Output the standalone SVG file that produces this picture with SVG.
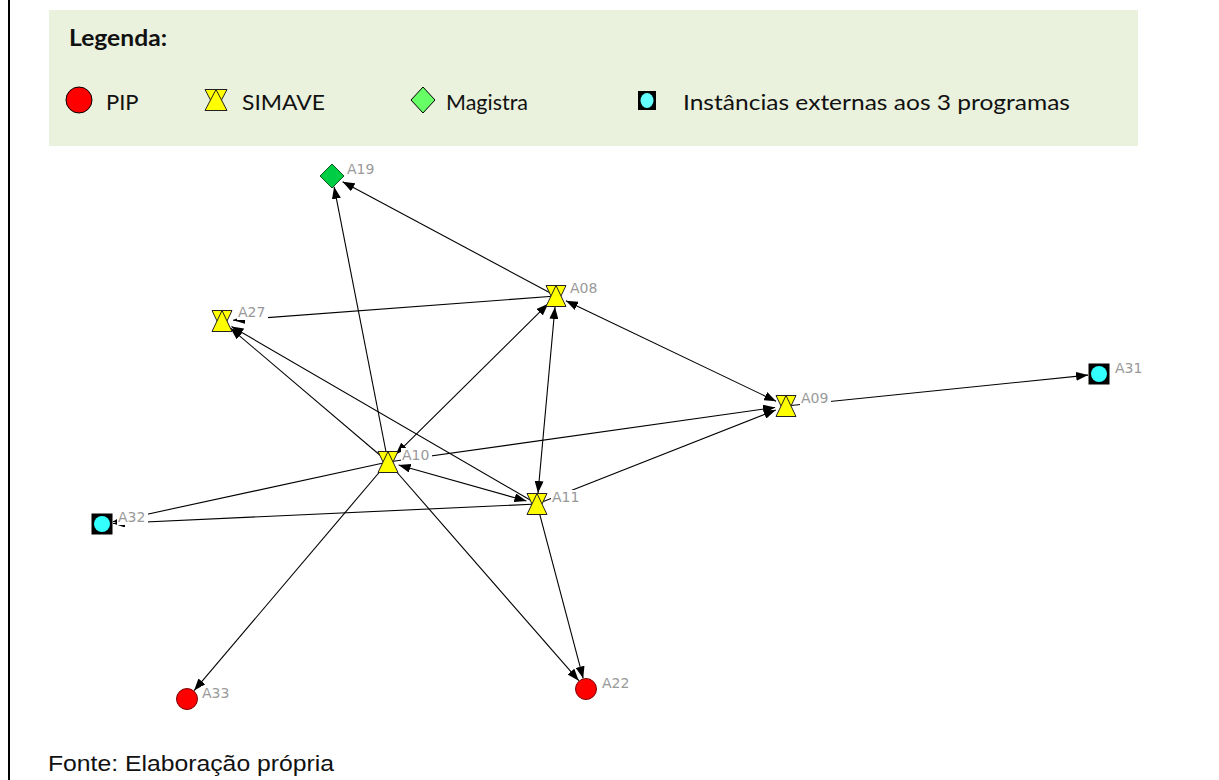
<svg xmlns="http://www.w3.org/2000/svg" width="1219" height="780" viewBox="0 0 1219 780">
  <style>
    .edge { stroke: #000; stroke-width: 1.1; fill: none; }
    .arr { marker-end: url(#arrow); }
    .bi { marker-start: url(#arrow); marker-end: url(#arrow); }
    .lbl { font-family: "DejaVu Sans", Verdana, sans-serif; font-size: 14px; fill: #999; }
    .lblbg { fill: #fff; }
    .leg { font-family: Lato, "Open Sans", sans-serif; font-size: 22px; fill: #111; }
    .hg { fill: #ffff00; stroke: #222; stroke-width: 1; stroke-linejoin: miter; }
  </style>
  <defs>
    <marker id="arrow" viewBox="0 0 12 9" refX="12" refY="4.5" markerWidth="12" markerHeight="9" markerUnits="userSpaceOnUse" orient="auto-start-reverse">
      <path d="M0,0 L12,4.5 L0,9 z" fill="#000"/>
    </marker>
    <!-- hourglass: a down and an up triangle overlapped -->
    <g id="hourglass">
      <polygon class="hg" points="-10,-10.5 10,-10.5 0,10.5"/>
      <polygon class="hg" points="-10,10.5 10,10.5 0,-10.5"/>
    </g>
    <g id="ext">
      <rect x="-10.5" y="-10.5" width="21" height="21" fill="#000"/>
      <circle r="8" fill="#33ffff"/>
    </g>
    <g id="pip">
      <circle r="10.5" fill="#ff0000" stroke="#7a0000" stroke-width="1"/>
    </g>
  </defs>

  <rect width="1219" height="780" fill="#fff"/>
  <line x1="9" y1="0" x2="9" y2="780" stroke="#000" stroke-width="2"/>

  <!-- legend -->
  <g id="legend">
    <rect x="49" y="10" width="1089" height="136" fill="#eaf1dd"/>
    <text x="69" y="46" class="leg" font-weight="bold" textLength="98" lengthAdjust="spacingAndGlyphs">Legenda:</text>
    <circle cx="79" cy="100" r="13" fill="#ff0000" stroke="#000" stroke-width="1"/>
    <text x="106" y="110" class="leg">PIP</text>
    <g transform="translate(216,100)">
      <polygon class="hg" points="-11,-10.5 11,-10.5 0,10.5"/>
      <polygon class="hg" points="-11,10.5 11,10.5 0,-10.5"/>
    </g>
    <text x="242" y="110" class="leg" textLength="83" lengthAdjust="spacingAndGlyphs">SIMAVE</text>
    <polygon points="423,87 435,100 423,113 411,100" fill="#66ff66" stroke="#000" stroke-width="1"/>
    <text x="446" y="110" class="leg" textLength="82" lengthAdjust="spacingAndGlyphs">Magistra</text>
    <rect x="638" y="91" width="18" height="19" fill="#000"/>
    <ellipse cx="647" cy="100.5" rx="6.5" ry="7.5" fill="#66ffff"/>
    <text x="683" y="110" class="leg" textLength="387" lengthAdjust="spacingAndGlyphs">Instâncias externas aos 3 programas</text>
  </g>

  <!-- connectors -->
  <g id="edges">
    <line class="edge arr" x1="556" y1="296" x2="342.6" y2="181.7"/>
    <line class="edge arr" x1="388" y1="462" x2="334.1" y2="186.8"/>
    <line class="edge arr" x1="556" y1="296" x2="233" y2="320.2"/>
    <line class="edge bi" x1="395.8" y1="454.3" x2="548.2" y2="303.7"/>
    <line class="edge bi" x1="538" y1="493" x2="555" y2="307"/>
    <line class="edge bi" x1="565.9" y1="300.7" x2="776.1" y2="401.3"/>
    <line class="edge arr" x1="388" y1="462" x2="230.4" y2="328.1"/>
    <line class="edge arr" x1="537" y1="504" x2="231.5" y2="326.5"/>
    <line class="edge arr" x1="388" y1="462" x2="775.1" y2="407.5"/>
    <line class="edge arr" x1="537" y1="504" x2="775.8" y2="410"/>
    <line class="edge arr" x1="786" y1="406" x2="1088.1" y2="375.1"/>
    <line class="edge bi" x1="398.6" y1="465" x2="526.4" y2="501"/>
    <line class="edge arr" x1="537" y1="504" x2="113" y2="523.5"/>
    <line class="edge arr" x1="388" y1="462" x2="112.8" y2="521.7"/>
    <line class="edge arr" x1="388" y1="462" x2="194.1" y2="690.6"/>
    <line class="edge arr" x1="388" y1="462" x2="578.8" y2="680.7"/>
    <line class="edge arr" x1="537" y1="504" x2="583.2" y2="678.4"/>
  </g>

  <!-- nodes -->
  <g id="A19">
    <rect class="lblbg" x="346" y="162" width="31" height="15"/>
    <text class="lbl" x="347" y="174">A19</text>
    <polygon points="332,164 344,176 332,188 320,176" fill="#00cc44" stroke="#115522" stroke-width="1"/>
  </g>
  <g id="A08">
    <rect class="lblbg" x="569" y="281" width="31" height="15"/>
    <text class="lbl" x="570" y="293">A08</text>
    <use href="#hourglass" x="556" y="296"/>
  </g>
  <g id="A27">
    <rect class="lblbg" x="237" y="305" width="31" height="15"/>
    <text class="lbl" x="238" y="317">A27</text>
    <use href="#hourglass" x="222" y="321"/>
  </g>
  <g id="A09">
    <rect class="lblbg" x="800" y="391" width="31" height="15"/>
    <text class="lbl" x="801" y="403">A09</text>
    <use href="#hourglass" x="786" y="406"/>
  </g>
  <g id="A10">
    <rect class="lblbg" x="401" y="448" width="31" height="15"/>
    <text class="lbl" x="402" y="460">A10</text>
    <use href="#hourglass" x="388" y="462"/>
  </g>
  <g id="A11">
    <rect class="lblbg" x="551" y="490" width="31" height="15"/>
    <text class="lbl" x="552" y="502">A11</text>
    <use href="#hourglass" x="537" y="504"/>
  </g>
  <g id="A31">
    <rect class="lblbg" x="1114" y="361" width="31" height="15"/>
    <text class="lbl" x="1115" y="373">A31</text>
    <use href="#ext" x="1099" y="374"/>
  </g>
  <g id="A32">
    <rect class="lblbg" x="117" y="510" width="31" height="15"/>
    <text class="lbl" x="118" y="522">A32</text>
    <use href="#ext" x="102" y="524"/>
  </g>
  <g id="A33">
    <rect class="lblbg" x="201" y="686" width="31" height="15"/>
    <text class="lbl" x="202" y="698">A33</text>
    <use href="#pip" x="187" y="699"/>
  </g>
  <g id="A22">
    <rect class="lblbg" x="601" y="676" width="31" height="15"/>
    <text class="lbl" x="602" y="688">A22</text>
    <use href="#pip" x="586" y="689"/>
  </g>

  <text x="48" y="771" font-family="Liberation Sans, Arial, sans-serif" font-size="22" fill="#111" textLength="286" lengthAdjust="spacingAndGlyphs">Fonte: Elaboração própria</text>
</svg>
